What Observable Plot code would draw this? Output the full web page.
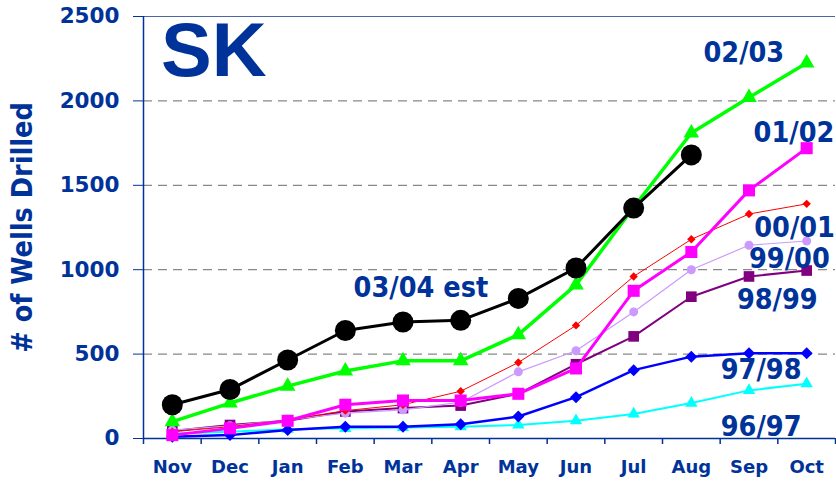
<!DOCTYPE html>
<html>
<head>
<meta charset="utf-8">
<script src="https://cdn.jsdelivr.net/npm/d3@7"></script>
<script src="https://cdn.jsdelivr.net/npm/@observablehq/plot@0.6"></script>
<style>
  html, body { margin: 0; padding: 0; background: #fff; }
  #chart svg { display: block; }
</style>
</head>
<body>
<div id="chart"></div>
<script>
// ---- data ----
const months = ["Nov","Dec","Jan","Feb","Mar","Apr","May","Jun","Jul","Aug","Sep","Oct"];
const yTicks = [0, 500, 1000, 1500, 2000, 2500];

const s9697 = [30, 40, 55, 60, 65, 70, 80, 105, 145, 210, 285, 325];
const s9798 = [10, 20, 50, 70, 70, 85, 130, 245, 405, 485, 505, 505];
const s9899 = [45, 80, 105, 160, 180, 195, 265, 440, 605, 840, 960, 995];
const s9900 = [50, 75, 110, 150, 170, 215, 395, 520, 750, 1000, 1145, 1170];
const s0001 = [40, 70, 110, 165, 200, 280, 450, 670, 960, 1180, 1330, 1390];
const s0102 = [20, 60, 105, 200, 225, 225, 265, 415, 875, 1105, 1470, 1720];
const s0203 = [100, 210, 310, 400, 460, 460, 615, 910, 1370, 1810, 2020, 2225];
const s0304 = [200, 290, 465, 640, 690, 700, 830, 1010, 1365, 1680];

const seriesNames = ["96/97","97/98","98/99","99/00","00/01","01/02","02/03","03/04 est"];
const seriesValues = [s9697, s9798, s9899, s9900, s0001, s0102, s0203, s0304];

// series labels anchored in data space (month index, wells)
const labelText = ["02/03","01/02","00/01","99/00","98/99","97/98","96/97","03/04 est"];
const labelX    = [9.91, 10.78, 10.79, 10.7, 10.49, 10.21, 10.21, 4.31];
const labelY    = [2284, 1813, 1245, 1065, 823, 409, 71, 895];

// ---- styles ----
const navy = "#003399";
const styles = {
  "96/97":     {color: "#00ffff", symbol: "triangle", r: 4.6, sw: 2},
  "97/98":     {color: "#0000ff", symbol: "diamond2", r: 5.4, sw: 2.5},
  "98/99":     {color: "#800080", symbol: "square",   r: 6,   sw: 2},
  "99/00":     {color: "#cc99ff", symbol: "circle",   r: 4.5, sw: 1.2},
  "00/01":     {color: "#ff0000", symbol: "diamond2", r: 3.8, sw: 1},
  "01/02":     {color: "#ff00ff", symbol: "square",   r: 6.8, sw: 3},
  "02/03":     {color: "#00ff00", symbol: "triangle", r: 5.8, sw: 3.5},
  "03/04 est": {color: "#000000", symbol: "circle",   r: 10.5, sw: 3}
};

const rows = [];
seriesNames.forEach((name, k) => {
  seriesValues[k].forEach((v, i) => rows.push({series: name, i, v}));
});
const labels = labelText.map((t, k) => ({t, x: labelX[k], y: labelY[k]}));

const marks = [
  Plot.ruleY([500, 1000, 1500, 2000], {stroke: "#888", strokeWidth: 1.2, strokeDasharray: "9,6"}),
  Plot.ruleY([2500], {stroke: "#4a67a8", strokeWidth: 1.2}),
  Plot.axisY({ticks: yTicks, tickFormat: d => String(d), tickSize: 10, tickPadding: 14, stroke: navy, fill: navy,
              fontSize: 21.5, fontWeight: "bold", label: null}),
  Plot.axisX({ticks: d3.range(12), tickFormat: i => months[i], tickSize: 0, tickPadding: 22,
              fill: navy, fontSize: 18, fontWeight: "bold", label: null}),
  Plot.axisX({ticks: d3.range(13).map(k => k - 0.5), tickFormat: () => "", tickSize: 6,
              stroke: navy, strokeWidth: 1.5, label: null}),
  Plot.ruleY([0], {stroke: navy, strokeWidth: 1.5}),
  Plot.ruleX([-0.5], {stroke: navy, strokeWidth: 1.5})
];

seriesNames.forEach(name => {
  const st = styles[name];
  const data = rows.filter(d => d.series === name);
  marks.push(Plot.line(data, {x: "i", y: "v", stroke: st.color, strokeWidth: st.sw}));
  marks.push(Plot.dot(data, {x: "i", y: "v", symbol: () => st.symbol, fill: st.color, r: st.r, stroke: "none"}));
});

marks.push(Plot.text(labels, {x: "x", y: "y", text: "t", fill: navy, fontSize: 28.5,
  fontWeight: "bold", fontFamily: "'DejaVu Sans Condensed', 'DejaVu Sans', sans-serif"}));
marks.push(Plot.text(["SK"], {x: () => 0.72, y: () => 2290, text: d => d, fill: navy, fontSize: 76,
  fontWeight: "bold", fontFamily: "'Liberation Sans', Arial, sans-serif"}));
marks.push(Plot.text(["# of Wells Drilled"], {frameAnchor: "left", textAnchor: "middle", dx: -121, rotate: -90,
  text: d => d, fill: navy, fontSize: 28.5, fontWeight: "bold",
  fontFamily: "'DejaVu Sans Condensed', 'DejaVu Sans', sans-serif"}));

const chart = Plot.plot({
  width: 836,
  height: 481,
  marginLeft: 143,
  marginRight: 1,
  marginTop: 16,
  marginBottom: 43,
  style: {fontFamily: "'DejaVu Sans', sans-serif", background: "#fff", overflow: "visible"},
  x: {type: "linear", domain: [-0.5, 11.5]},
  y: {domain: [0, 2500]},
  symbol: {type: "identity"},
  marks
});
document.getElementById("chart").appendChild(chart);
</script>
</body>
</html>
